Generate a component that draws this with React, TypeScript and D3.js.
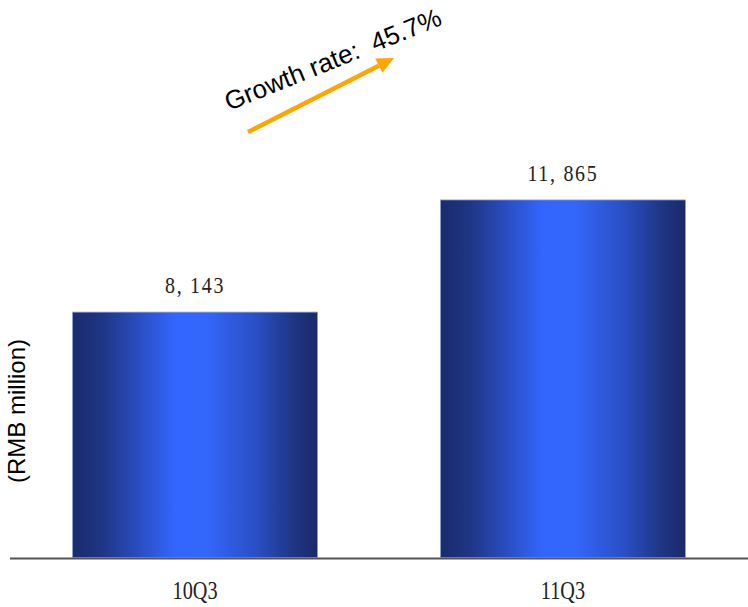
import React from "react";
import * as d3 from "d3";

const categories = ["10Q3", "11Q3"];
const values = [8143, 11865];
const valueLabels = ["8, 143", "11, 865"];
const growthLabel = "Growth rate:  45.7%";
const yAxisLabel = "(RMB million)";

const W = 748;
const H = 607;

export default function App() {
  const x = d3
    .scaleBand<string>()
    .domain(categories)
    .range([10, 748])
    .paddingInner(0.334)
    .paddingOuter(0.17);
  const y = d3.scaleLinear().domain([0, 18500]).range([557.5, 0]);

  const arrowStart: [number, number] = [248, 132];
  const arrowEnd: [number, number] = [394, 58];
  const ang = Math.atan2(arrowEnd[1] - arrowStart[1], arrowEnd[0] - arrowStart[0]);
  const headLen = 17;
  const headHalf = 8;
  const ux = Math.cos(ang);
  const uy = Math.sin(ang);
  const bx = arrowEnd[0] - ux * headLen;
  const by = arrowEnd[1] - uy * headLen;
  const head = [
    [arrowEnd[0], arrowEnd[1]],
    [bx - uy * headHalf, by + ux * headHalf],
    [bx + uy * headHalf, by - ux * headHalf],
  ];

  return (
    <svg
      width={W}
      height={H}
      style={{ position: "absolute", left: 0, top: 0, background: "#fff" }}
    >
      <defs>
        <linearGradient id="barFill" x1="0" y1="0" x2="1" y2="0">
          <stop offset="0" stopColor="#1a2b6c" />
          <stop offset="0.12" stopColor="#1f3585" />
          <stop offset="0.3" stopColor="#2c52cc" />
          <stop offset="0.42" stopColor="#3366ff" />
          <stop offset="0.55" stopColor="#3366fa" />
          <stop offset="0.75" stopColor="#2a4fc4" />
          <stop offset="0.9" stopColor="#1f3686" />
          <stop offset="1" stopColor="#1a2a68" />
        </linearGradient>
      </defs>

      {categories.map((c, i) => {
        const cx = (x(c) as number) + x.bandwidth() / 2;
        return (
          <g key={c}>
            <rect
              x={x(c)}
              y={y(values[i])}
              width={x.bandwidth()}
              height={y(0) - y(values[i])}
              fill="url(#barFill)"
              stroke="#8fa0d8"
              strokeWidth={0.8}
            />
            <text
              transform={`translate(${cx},${y(values[i]) - 19}) scale(0.95,1.12)`}
              textAnchor="middle"
              fontFamily="'Liberation Serif', serif"
              fontSize={21}
              letterSpacing={1.8}
              fill="#222"
            >
              {valueLabels[i]}
            </text>
            <text
              transform={`translate(${cx},599) scale(0.92,1.12)`}
              textAnchor="middle"
              fontFamily="'Liberation Serif', serif"
              fontSize={22}
              fill="#222"
            >
              {c}
            </text>
          </g>
        );
      })}

      <line x1={10} x2={748} y1={558.5} y2={558.5} stroke="#555" strokeWidth={2} />

      <text
        transform="translate(25,411) rotate(-90)"
        textAnchor="middle"
        fontFamily="'Liberation Sans', Arial, sans-serif"
        fontSize={24}
        fill="#000"
      >
        {yAxisLabel}
      </text>

      <line
        x1={arrowStart[0]}
        y1={arrowStart[1]}
        x2={bx}
        y2={by}
        stroke="#ffa500"
        strokeWidth={4.5}
      />
      <polygon points={head.map((p) => p.join(",")).join(" ")} fill="#ffa500" />

      <text
        transform="translate(229,111) rotate(-22)"
        fontFamily="'Liberation Sans', Arial, sans-serif"
        fontSize={26}
        fill="#000"
        style={{ whiteSpace: "pre" }}
      >
        {growthLabel}
      </text>
    </svg>
  );
}
